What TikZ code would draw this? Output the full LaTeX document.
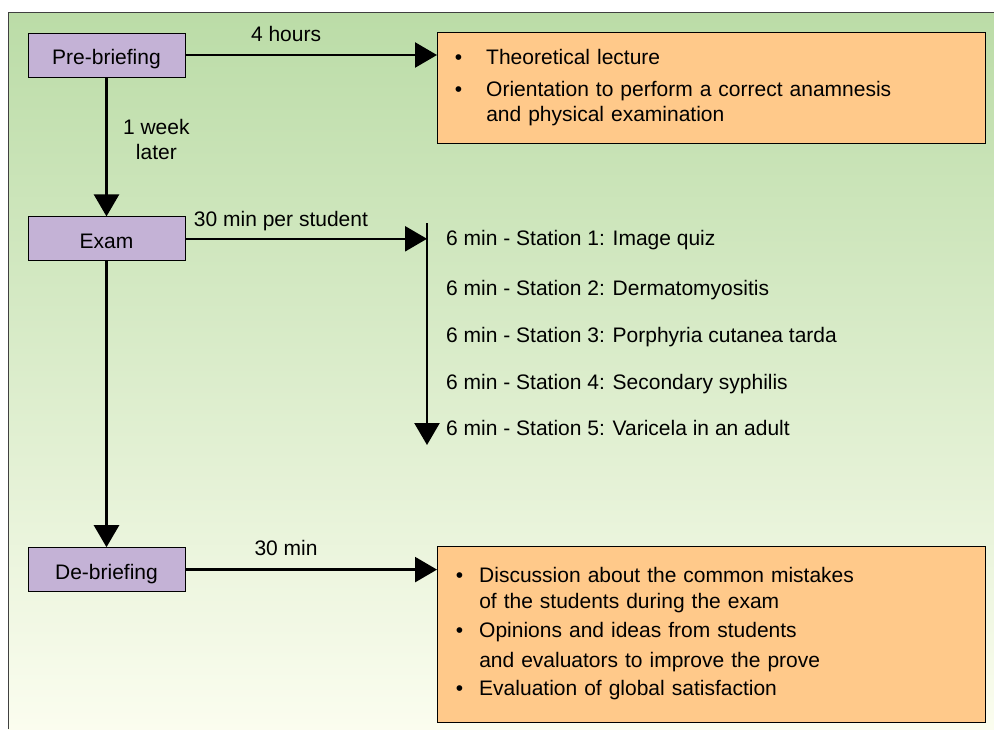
\documentclass[tikz,border=0pt]{standalone}
\usepackage{fontspec}
\setmainfont{Liberation Sans}
\usepackage{xcolor}
\usepackage{tikz}
\usetikzlibrary{shapes,arrows,arrows.meta,positioning,calc}

\definecolor{stagepurple}{HTML}{C4B2D6}
\definecolor{infoorange}{HTML}{FFC98A}
\definecolor{bgtop}{HTML}{BBDCA7}
\definecolor{bgbottom}{HTML}{FBFDEF}

\begin{document}
\begin{tikzpicture}[x=1pt, y=-1pt, font=\fontsize{21}{25}\selectfont,
    stage/.style={rectangle, draw, line width=0.8pt, fill=stagepurple, minimum width=157pt, minimum height=44pt, text height=19pt, text depth=0pt},
    infobox/.style={rectangle, draw, line width=0.8pt, fill=infoorange, anchor=north west, align=left},
    station/.style={anchor=base west, inner sep=0pt},
    flow/.style={-{Triangle[length=22pt, width=25pt]}, line width=2.5pt}]

    \useasboundingbox (0,0) rectangle (994,729);

    % Background
    \fill[top color=bgtop, bottom color=bgbottom] (8,12) rectangle (994,729);
    \draw[line width=1pt, draw=black!75] (8,729) -- (8,12) -- (994,12);

    % Nodes
    \node[stage] (pre) at (106.5,55) {Pre-briefing};
    \node[stage, below=139pt of pre] (exam) {Exam};
    \node[stage, below=286pt of exam] (debrief) {De-briefing};

    \node[infobox, inner xsep=17.5pt, text width=513pt, minimum height=111pt] (theory) at (437,32) {%
        \begin{tabular}{@{}l@{\hspace{24pt}}l@{}}
        \textbullet & Theoretical lecture\\[7pt]
        \textbullet & Orientation to perform a correct anamnesis\\
                    & and physical examination
        \end{tabular}};
    \node[infobox, inner xsep=18.5pt, text width=511pt, minimum height=176pt] (feedback) at (437,546) {%
        \begin{tabular}{@{}l@{\hspace{16pt}}l@{}}
        \textbullet & Discussion about the common mistakes\\[1pt]
                    & of the students during the exam\\[4pt]
        \textbullet & Opinions and ideas from students\\[5pt]
                    & and evaluators to improve the prove\\[3pt]
        \textbullet & Evaluation of global satisfaction
        \end{tabular}};

    \coordinate (stTop) at (427,223);
    \coordinate (stBottom) at (427,445);
    \node[station] (st1) at (446,245) {6 min - Station 1: Image quiz};
    \node[station] (st2) at (446,295) {6 min - Station 2: Dermatomyositis};
    \node[station] (st3) at (446,342) {6 min - Station 3: Porphyria cutanea tarda};
    \node[station] (st4) at (446,389) {6 min - Station 4: Secondary syphilis};
    \node[station] (st5) at (446,435) {6 min - Station 5: Varicela in an adult};

    % Connectors
    \draw[flow] (pre.east) -- node[above=9pt, pos=0.4] {4 hours} (pre.east -| theory.west);
    \draw[flow] (pre) -- node[right=12pt, pos=0.45, align=center] {1 week\\later} (exam);
    \draw[flow] (exam.east) -- node[above right=3pt and 4pt, pos=0] {30 min per student} (exam.east -| stTop);
    \draw[flow] (stTop) -- (stBottom);
    \draw[flow] (exam) -- (debrief);
    \draw[flow] (debrief.east) -- node[above=9pt, pos=0.4] {30 min} (debrief.east -| feedback.west);

\end{tikzpicture}
\end{document}
